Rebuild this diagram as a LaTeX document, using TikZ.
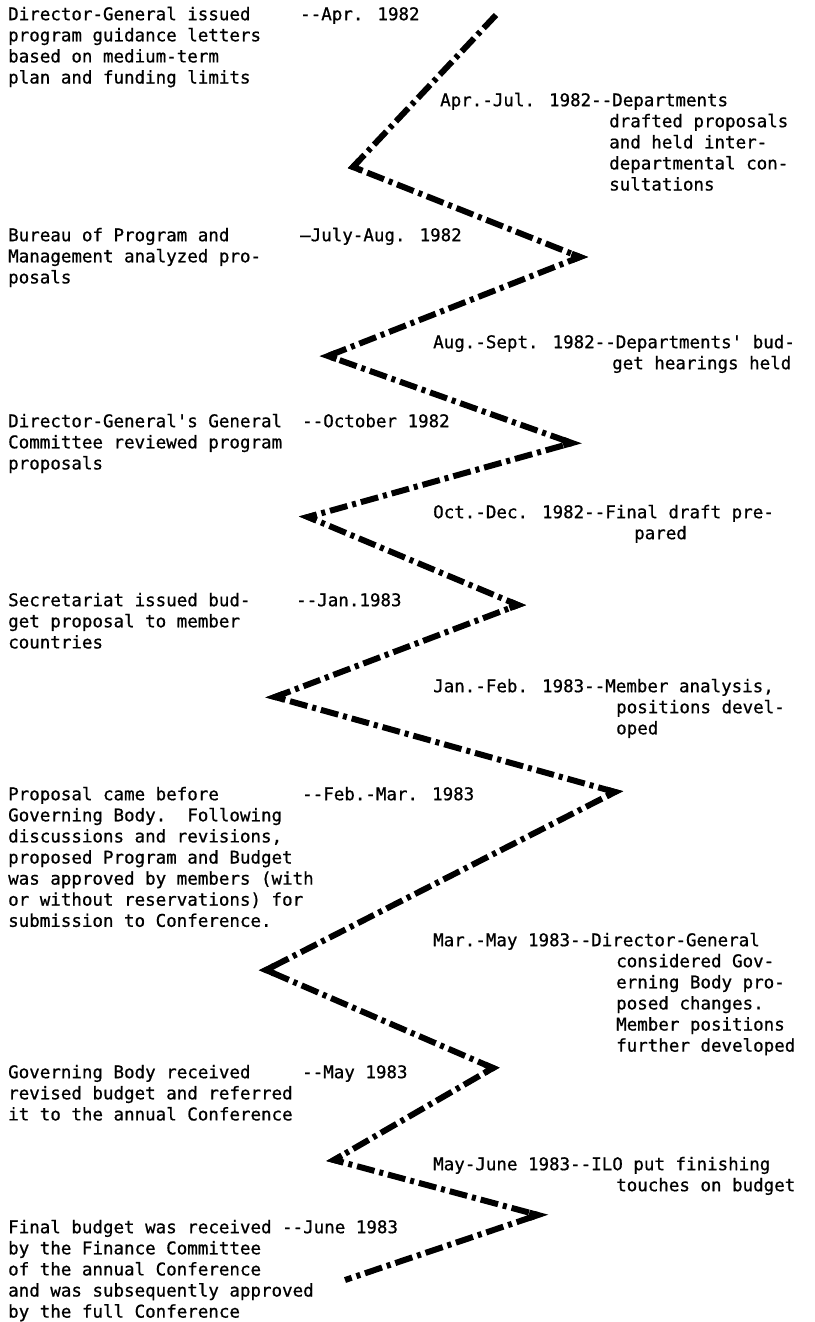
\documentclass[tikz,border=0pt]{standalone}
\usepackage{fontspec}
\newfontfamily\typewriter[FakeBold=0.8]{DejaVu Sans Mono}
\usetikzlibrary{calc}
\newcommand{\fl}{\rule{0pt}{14pt}}
\begin{document}
\begin{tikzpicture}[x=1pt,y=-1pt,
  lbl/.style={anchor=north west, inner sep=0pt, font=\typewriter\fontsize{17.5}{21.1}\selectfont, align=left},
  zig/.style={line width=6pt, dash pattern=on 18pt off 5pt on 4pt off 5pt, line join=miter, miter limit=20},
  tip/.style={line width=6pt, line join=miter, miter limit=20}]
\useasboundingbox (0,0) rectangle (814,1322);
% texts (y = first baseline - 14)
\node[lbl] (tA) at (8,6) {\fl Director-General issued\\program guidance letters\\based on medium-term\\plan and funding limits};
\node[lbl] (dA) at (300,6) {\fl --Apr. 1982};
\node[lbl] (rB) at (440,92) {\fl Apr.-Jul. 1982--Departments};
\node[lbl] (rBc) at (609,113) {\fl drafted proposals\\and held inter-\\departmental con-\\sultations};
\node[lbl] (tC) at (8,227) {\fl Bureau of Program and\\Management analyzed pro-\\posals};
\node[lbl] (dC) at (300,227) {\fl —July-Aug. 1982};
\node[lbl] (rD) at (433,334) {\fl Aug.-Sept. 1982--Departments' bud-};
\node[lbl] (rDc) at (612,355) {\fl get hearings held};
\node[lbl] (tE) at (8,413) {\fl Director-General's General\\Committee reviewed program\\proposals};
\node[lbl] (dE) at (302,413) {\fl --October 1982};
\node[lbl] (rF) at (433,504) {\fl Oct.-Dec. 1982--Final draft pre-};
\node[lbl] (rFc) at (634,525) {\fl pared};
\node[lbl] (tG) at (8,592) {\fl Secretariat issued bud-\\get proposal to member\\countries};
\node[lbl] (dG) at (296,592) {\fl --Jan.1983};
\node[lbl] (rH) at (433,678) {\fl Jan.-Feb. 1983--Member analysis,};
\node[lbl] (rHc) at (616,699) {\fl positions devel-\\oped};
\node[lbl] (tI) at (8,786) {\fl Proposal came before\\Governing Body.\ \ Following\\discussions and revisions,\\proposed Program and Budget\\was approved by members (with\\or without reservations) for\\submission to Conference.};
\node[lbl] (dI) at (302,786) {\fl --Feb.-Mar. 1983};
\node[lbl] (rJ) at (433,932) {\fl Mar.-May 1983--Director-General};
\node[lbl] (rJc) at (616,953) {\fl considered Gov-\\erning Body pro-\\posed changes.\\Member positions\\further developed};
\node[lbl] (tK) at (8,1064) {\fl Governing Body received\\revised budget and referred\\it to the annual Conference};
\node[lbl] (dK) at (302,1064) {\fl --May 1983};
\node[lbl] (rL) at (433,1156) {\fl May-June 1983--ILO put finishing};
\node[lbl] (rLc) at (616,1177) {\fl touches on budget};
\node[lbl] (tM) at (8,1219) {\fl Final budget was received --June 1983\\by the Finance Committee\\of the annual Conference\\and was subsequently approved\\by the full Conference};
% zigzag vertices
\coordinate (z0) at (496,15);
\coordinate (z1) at (353,167);
\coordinate (z2) at (580,257);
\coordinate (z3) at (328,356);
\coordinate (z4) at (572,443);
\coordinate (z5) at (308,517);
\coordinate (z6) at (518,605);
\coordinate (z7) at (275,697);
\coordinate (z8) at (615,792);
\coordinate (z9) at (266,970);
\coordinate (z10) at (493,1068);
\coordinate (z11) at (334,1160);
\coordinate (z12) at (538,1215);
\coordinate (z13) at (345,1280);
\draw[zig] (z0) -- (z1) -- (z2) -- (z3) -- (z4) -- (z5) -- (z6) -- (z7) -- (z8) -- (z9) -- (z10) -- (z11) -- (z12) -- (z13);
\foreach \a/\b/\c in {z0/z1/z2, z1/z2/z3, z2/z3/z4, z3/z4/z5, z4/z5/z6, z5/z6/z7, z6/z7/z8, z7/z8/z9, z8/z9/z10, z9/z10/z11, z10/z11/z12, z11/z12/z13}
  \draw[tip] ($(\b)!9pt!(\a)$) -- (\b) -- ($(\b)!9pt!(\c)$);
\end{tikzpicture}
\end{document}
